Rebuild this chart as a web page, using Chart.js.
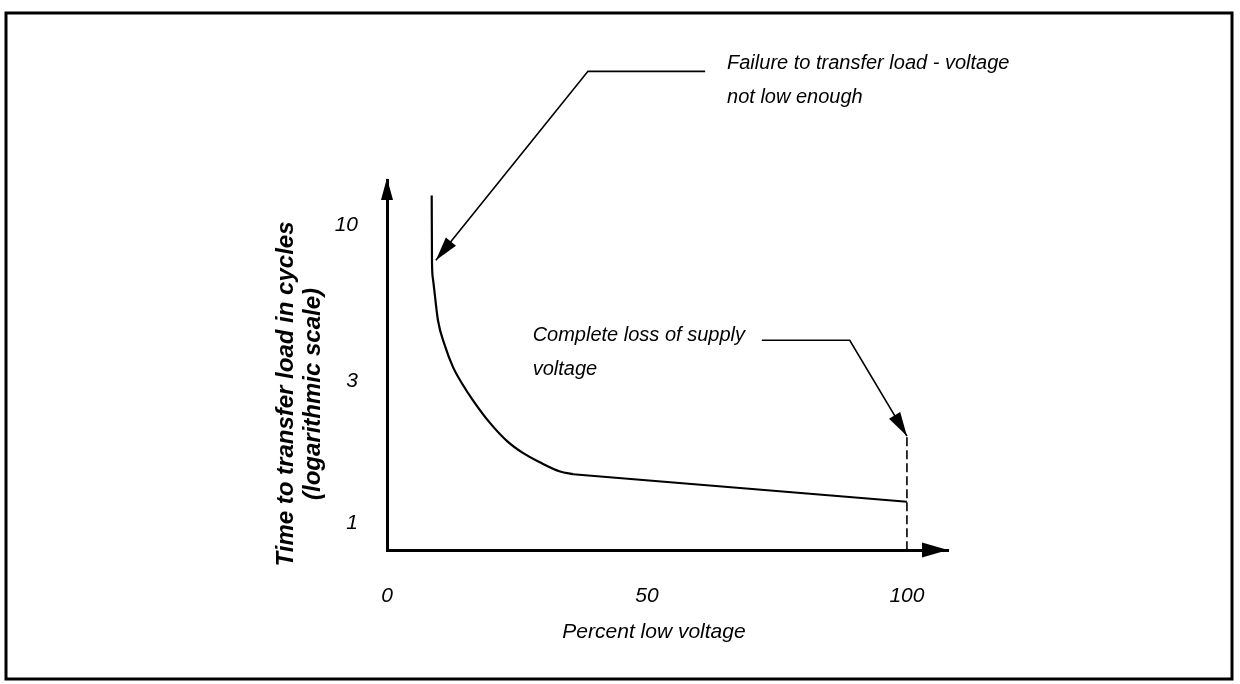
<!DOCTYPE html>
<html>
<head>
<meta charset="utf-8">
<script src="https://cdn.jsdelivr.net/npm/chart.js@4.4.1/dist/chart.umd.min.js"></script>
<style>
  html, body { margin: 0; padding: 0; background: #fff; }
</style>
</head>
<body>
<canvas id="chart1" width="1240" height="684"></canvas>
<script>
// values
const pctLow = [8.6, 8.65, 8.8, 9.8, 11.1, 12.7, 14.4, 16.5, 19.8, 23.1, 26.2, 29.4, 33.3, 35.8, 100];
const cycles = [12.6, 7.63, 6.69, 4.8, 3.96, 3.34, 2.95, 2.59, 2.17, 1.885, 1.717, 1.6, 1.49, 1.46, 1.18];
const kneeIndex = 13; // after this the line runs straight to 100 %
const lossPct = [100, 100];
const lossCycles = [0.81, 1.96];
const xTicks = [0, 50, 100];
const yTicks = [1, 3, 10];
const xTitle = "Percent low voltage";
const yTitle = ["Time to transfer load in cycles", "(logarithmic scale)"];

// callouts, in data units
const notes = [
  {
    lines: ["Failure to transfer load - voltage", "not low enough"],
    at: [65.4, 33.4], align: "left",
    path: [[61.2, 32.9], [38.65, 32.9], [9.4, 7.63]]
  },
  {
    lines: ["Complete loss of supply", "voltage"],
    at: [68.85, 4.08], align: "right",
    path: [[72.1, 4.11], [89.0, 4.11], [100, 1.96]]
  }
];

const FONT = "'Liberation Sans', Arial, sans-serif";

function arrowHead(ctx, x1, y1, x2, y2, len, half) {
  const a = Math.atan2(y2 - y1, x2 - x1);
  ctx.save();
  ctx.translate(x2, y2);
  ctx.rotate(a);
  ctx.beginPath();
  ctx.moveTo(0, 0);
  ctx.lineTo(-len, -half);
  ctx.lineTo(-len, half);
  ctx.closePath();
  ctx.fill();
  ctx.restore();
}

const figure = {
  id: "figure",
  beforeDraw(chart) {
    const ctx = chart.ctx;
    ctx.save();
    ctx.fillStyle = "#fff";
    ctx.fillRect(0, 0, chart.width, chart.height);
    ctx.strokeStyle = "#000";
    ctx.lineWidth = 3;
    ctx.strokeRect(6, 13, 1226, 666);
    ctx.restore();
  },
  afterDraw(chart) {
    const ctx = chart.ctx;
    const xs = chart.scales.x, ys = chart.scales.y;
    const area = chart.chartArea;
    ctx.save();
    ctx.fillStyle = "#000";
    ctx.strokeStyle = "#000";

    // axis arrows
    arrowHead(ctx, area.left, area.bottom, area.left, area.top - 2, 22, 6);
    arrowHead(ctx, area.left, area.bottom, area.right, area.bottom, 26, 7.5);

    // axis titles
    ctx.font = "italic 21px " + FONT;
    ctx.textAlign = "center";
    ctx.textBaseline = "alphabetic";
    ctx.fillText(xTitle, 654, area.bottom + 88);

    ctx.save();
    ctx.translate(area.left - 94, 394);
    ctx.rotate(-Math.PI / 2);
    ctx.font = "italic bold 24px " + FONT;
    ctx.fillText(yTitle[0], 0, 0);
    ctx.fillText(yTitle[1], 0, 27);
    ctx.restore();

    // callouts
    ctx.font = "italic 20px " + FONT;
    ctx.lineWidth = 1.6;
    notes.forEach(n => {
      const pts = n.path.map(p => [xs.getPixelForValue(p[0]), ys.getPixelForValue(p[1])]);
      ctx.beginPath();
      ctx.moveTo(pts[0][0], pts[0][1]);
      for (let i = 1; i < pts.length; i++) ctx.lineTo(pts[i][0], pts[i][1]);
      ctx.stroke();
      const a = pts[pts.length - 2], b = pts[pts.length - 1];
      arrowHead(ctx, a[0], a[1], b[0], b[1], 24, 6.5);

      const tx = xs.getPixelForValue(n.at[0]);
      const ty = ys.getPixelForValue(n.at[1]);
      ctx.textAlign = "left";
      let left = tx;
      if (n.align === "right") left = tx - ctx.measureText(n.lines[0]).width;
      n.lines.forEach((t, i) => ctx.fillText(t, left, ty + i * 34));
    });
    ctx.restore();
  }
};

const points = pctLow.map((v, i) => ({ x: v, y: cycles[i] }));

const ctx1 = document.getElementById("chart1").getContext("2d");
new Chart(ctx1, {
  type: "line",
  data: {
    datasets: [
      {
        data: points.slice(0, kneeIndex + 1),
        borderColor: "#000",
        borderWidth: 2.2,
        pointRadius: 0,
        cubicInterpolationMode: "monotone"
      },
      {
        data: points.slice(kneeIndex),
        borderColor: "#000",
        borderWidth: 2,
        pointRadius: 0,
        tension: 0
      },
      {
        data: lossPct.map((v, i) => ({ x: v, y: lossCycles[i] })),
        borderColor: "#000",
        borderWidth: 1.6,
        borderDash: [9, 4],
        pointRadius: 0
      }
    ]
  },
  plugins: [figure],
  options: {
    responsive: false,
    animation: false,
    devicePixelRatio: 1,
    layout: { padding: { left: 0, top: 180, right: 292, bottom: 0 } },
    plugins: { legend: { display: false }, tooltip: { enabled: false } },
    scales: {
      x: {
        type: "linear",
        min: 0,
        max: 107.9,
        afterFit: s => { s.height = 134; },
        afterBuildTicks: s => { s.ticks = xTicks.map(v => ({ value: v })); },
        grid: { display: false },
        border: { display: true, color: "#000", width: 3 },
        ticks: {
          color: "#000",
          padding: 26,
          font: { family: FONT, size: 21, style: "italic" },
          callback: v => String(v)
        }
      },
      y: {
        type: "logarithmic",
        min: 0.812,
        max: 14.2,
        afterFit: s => { s.width = 387; },
        afterBuildTicks: s => { s.ticks = yTicks.map(v => ({ value: v })); },
        grid: { display: false },
        border: { display: true, color: "#000", width: 3 },
        ticks: {
          color: "#000",
          padding: 21,
          font: { family: FONT, size: 21, style: "italic" },
          callback: v => String(v)
        }
      }
    }
  }
});
</script>
</body>
</html>
